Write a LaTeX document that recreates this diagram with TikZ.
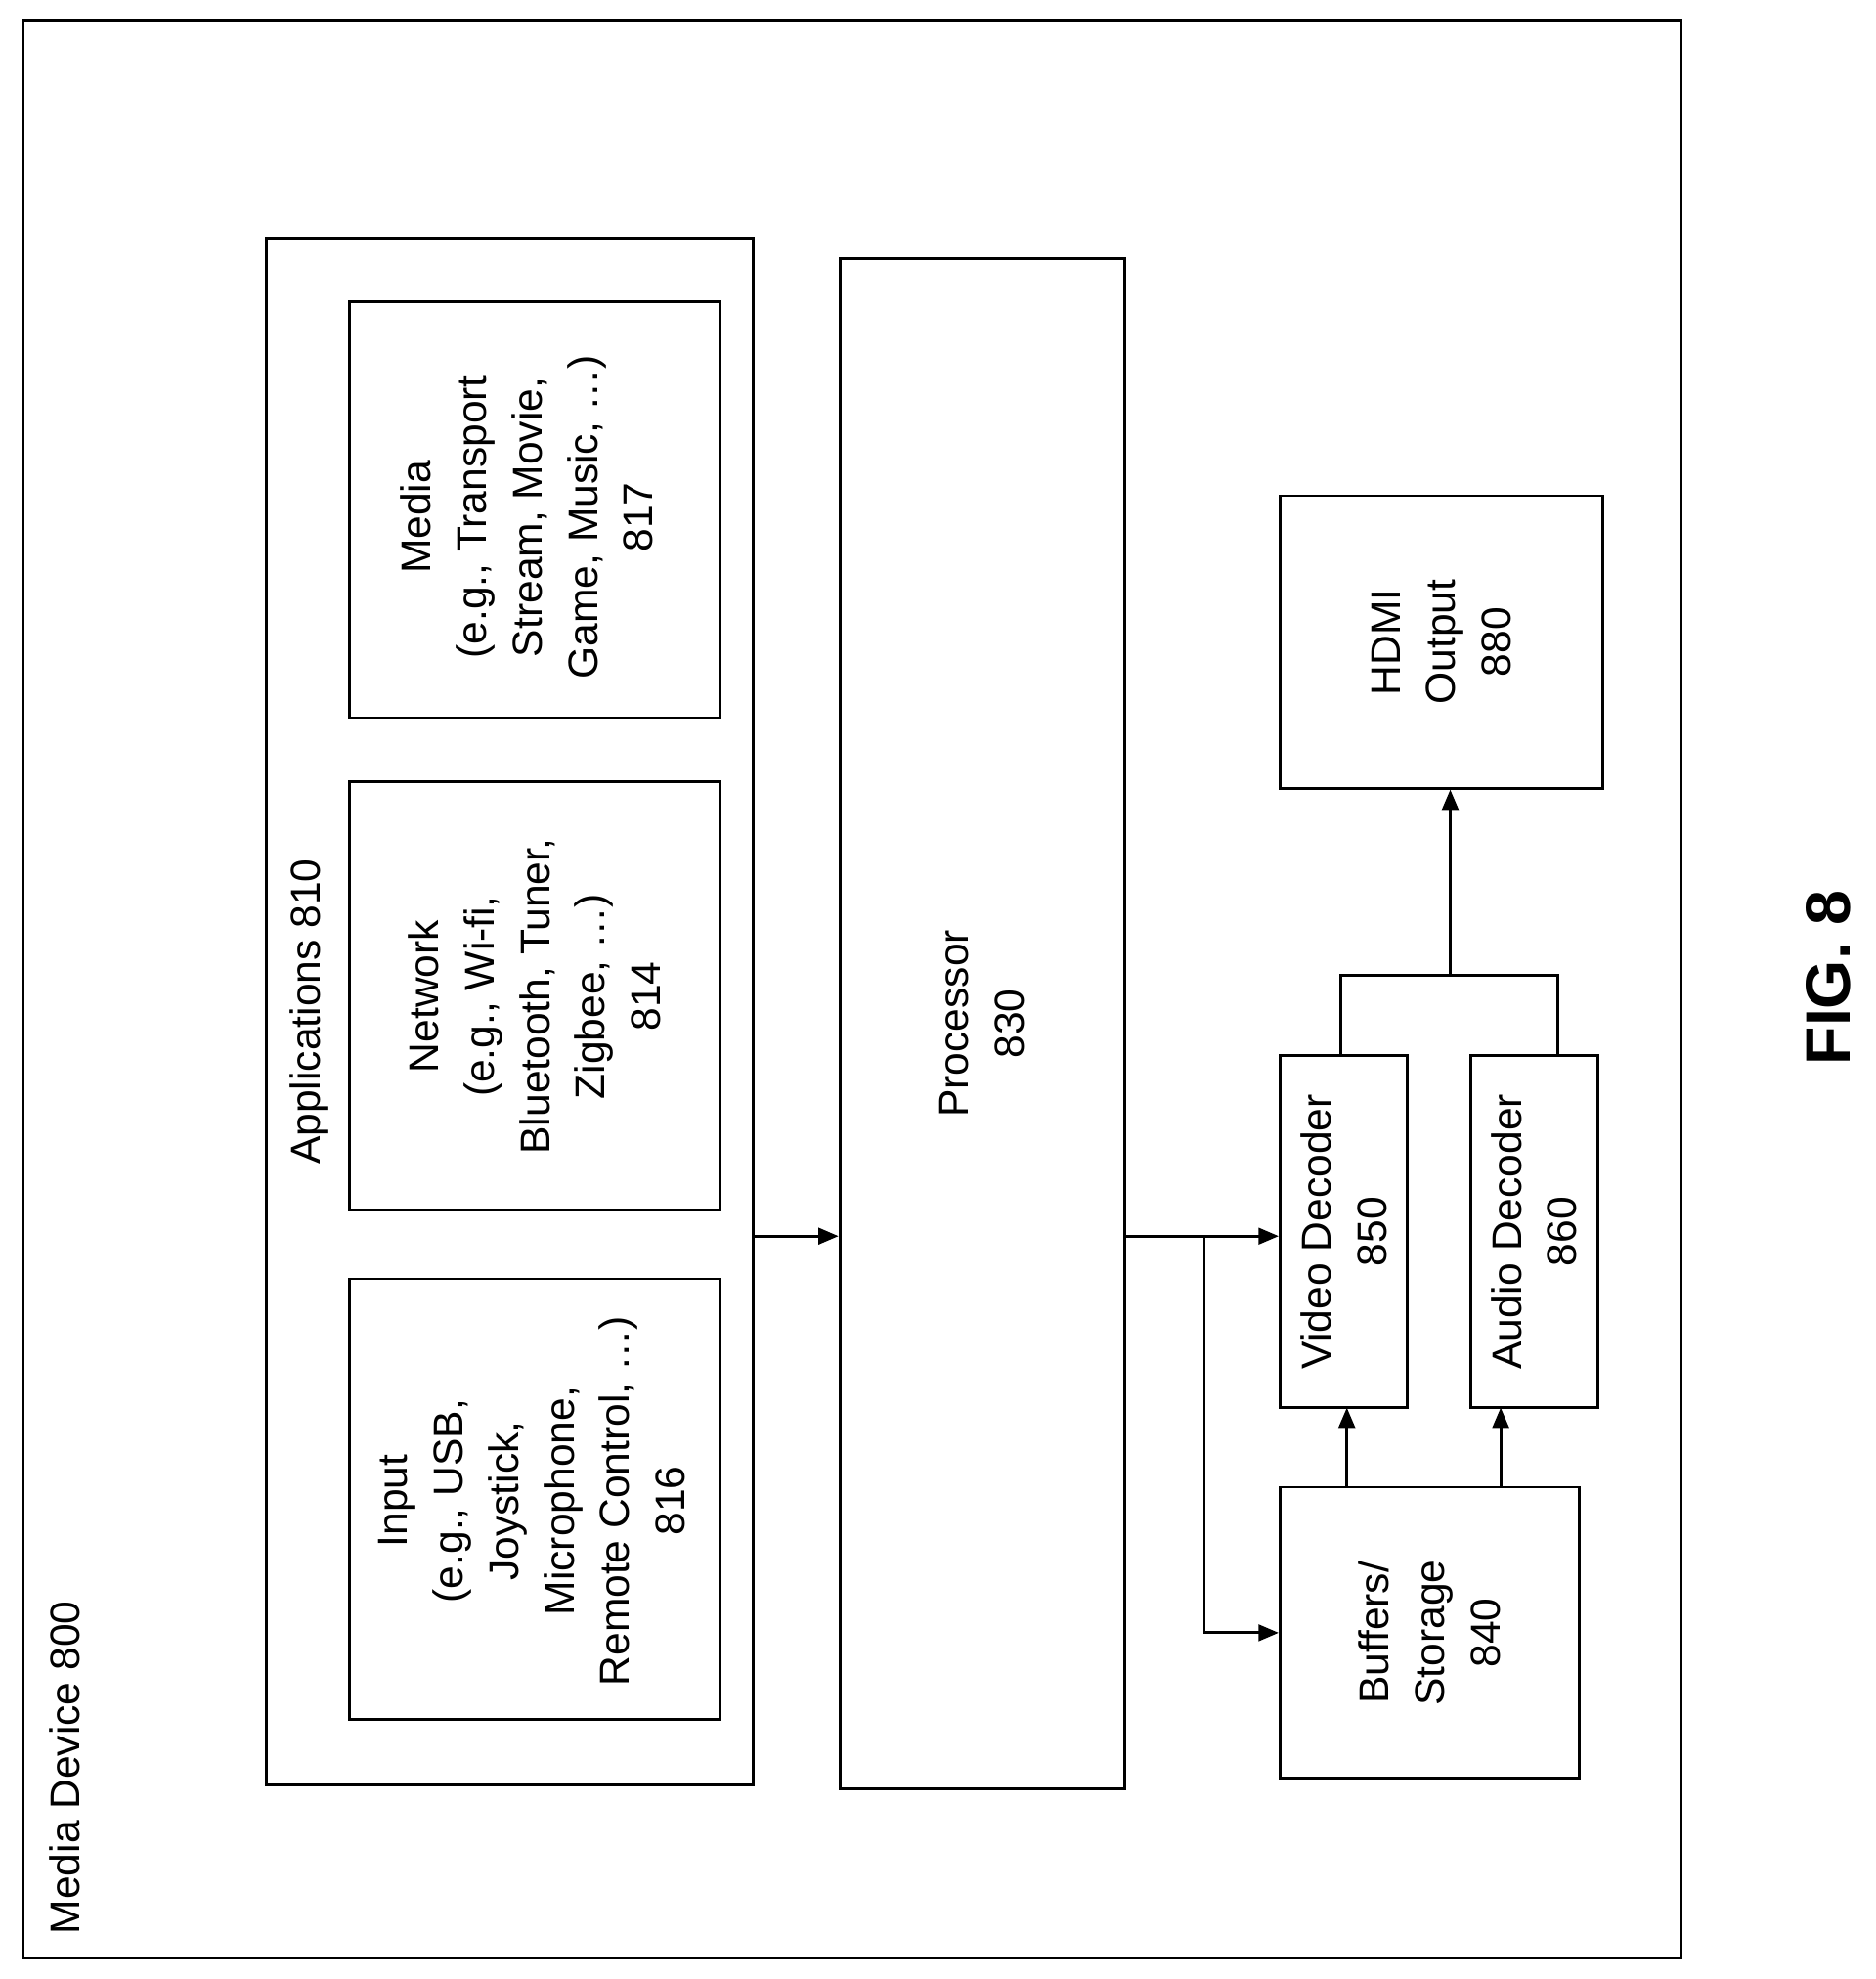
\documentclass[tikz,border=0pt]{standalone}
\usepackage{fontspec}
\setmainfont{Liberation Sans}
\usetikzlibrary{arrows.meta}
\begin{document}
\begin{tikzpicture}[x=1pt,y=-1pt,
 box/.style={draw,line width=2.2pt},
 lbl/.style={rotate=90,align=center,font=\fontsize{33}{44}\selectfont},
 ar/.style={line width=2.2pt,-{Triangle[length=16pt,width=13pt]}},
 ln/.style={line width=2.2pt}]
\useasboundingbox (0,0) rectangle (1487,1569);
\draw[box] (18,16) rectangle (1333,1552);
\node[lbl,anchor=south west] (dev) at (67,1537) {Media Device 800};
\draw[box] (211,189) rectangle (597,1415);
\coordinate (appR) at (597,980);
\node[lbl] (applbl) at (245,802) {Applications 810};
\draw[box] (277,239) rectangle (571,569);
\node[lbl] (media) at (418,410) {Media\\(e.g., Transport\\Stream, Movie,\\Game, Music, \dots)\\817};
\draw[box] (277,620) rectangle (571,959);
\node[lbl] (net) at (424,790) {Network\\(e.g., Wi-fi,\\Bluetooth, Tuner,\\Zigbee, \dots)\\814};
\draw[box] (277,1014) rectangle (571,1363);
\node[lbl] (inp) at (422,1190) {Input\\(e.g., USB,\\Joystick,\\Microphone,\\Remote Control, \dots)\\816};
\node[box,minimum width=226pt,minimum height=1213pt] (proc) at (779,811.5) {};
\node[lbl] at (proc) {Processor\\830};
\node[box,minimum width=256pt,minimum height=232pt] (hdmi) at (1143,509) {};
\node[lbl] at (hdmi) {HDMI\\Output\\880};
\node[box,minimum width=101pt,minimum height=279pt] (vd) at (1065.5,976.5) {};
\node[lbl] at (vd) {Video Decoder\\850};
\node[box,minimum width=101pt,minimum height=279pt] (ad) at (1216.5,976.5) {};
\node[lbl] at (ad) {Audio Decoder\\860};
\node[box,minimum width=237pt,minimum height=231pt] (buf) at (1133.5,1294.5) {};
\node[lbl] at (buf) {Buffers/\\Storage\\840};
\node[rotate=90,font=\bfseries\fontsize{50}{56}\selectfont] (fig) at (1450,775) {FIG. 8};
\draw[ar] (appR) -- (proc.west |- appR);
\coordinate (pv) at (proc.east |- appR);
\draw[ar] (pv) -- (vd.west |- appR);
\coordinate (br) at (955,980);
\draw[ar] (br) |- (buf.west);
\draw[ar] (1068,1179) -- (1068,1116);
\draw[ar] (1190,1179) -- (1190,1116);
\draw[ln] (1063,837) -- (1063,773) -- (1235,773) -- (1235,837);
\draw[ar] (1150,773) -- (hdmi.south -| 1150,0);
\end{tikzpicture}
\end{document}
